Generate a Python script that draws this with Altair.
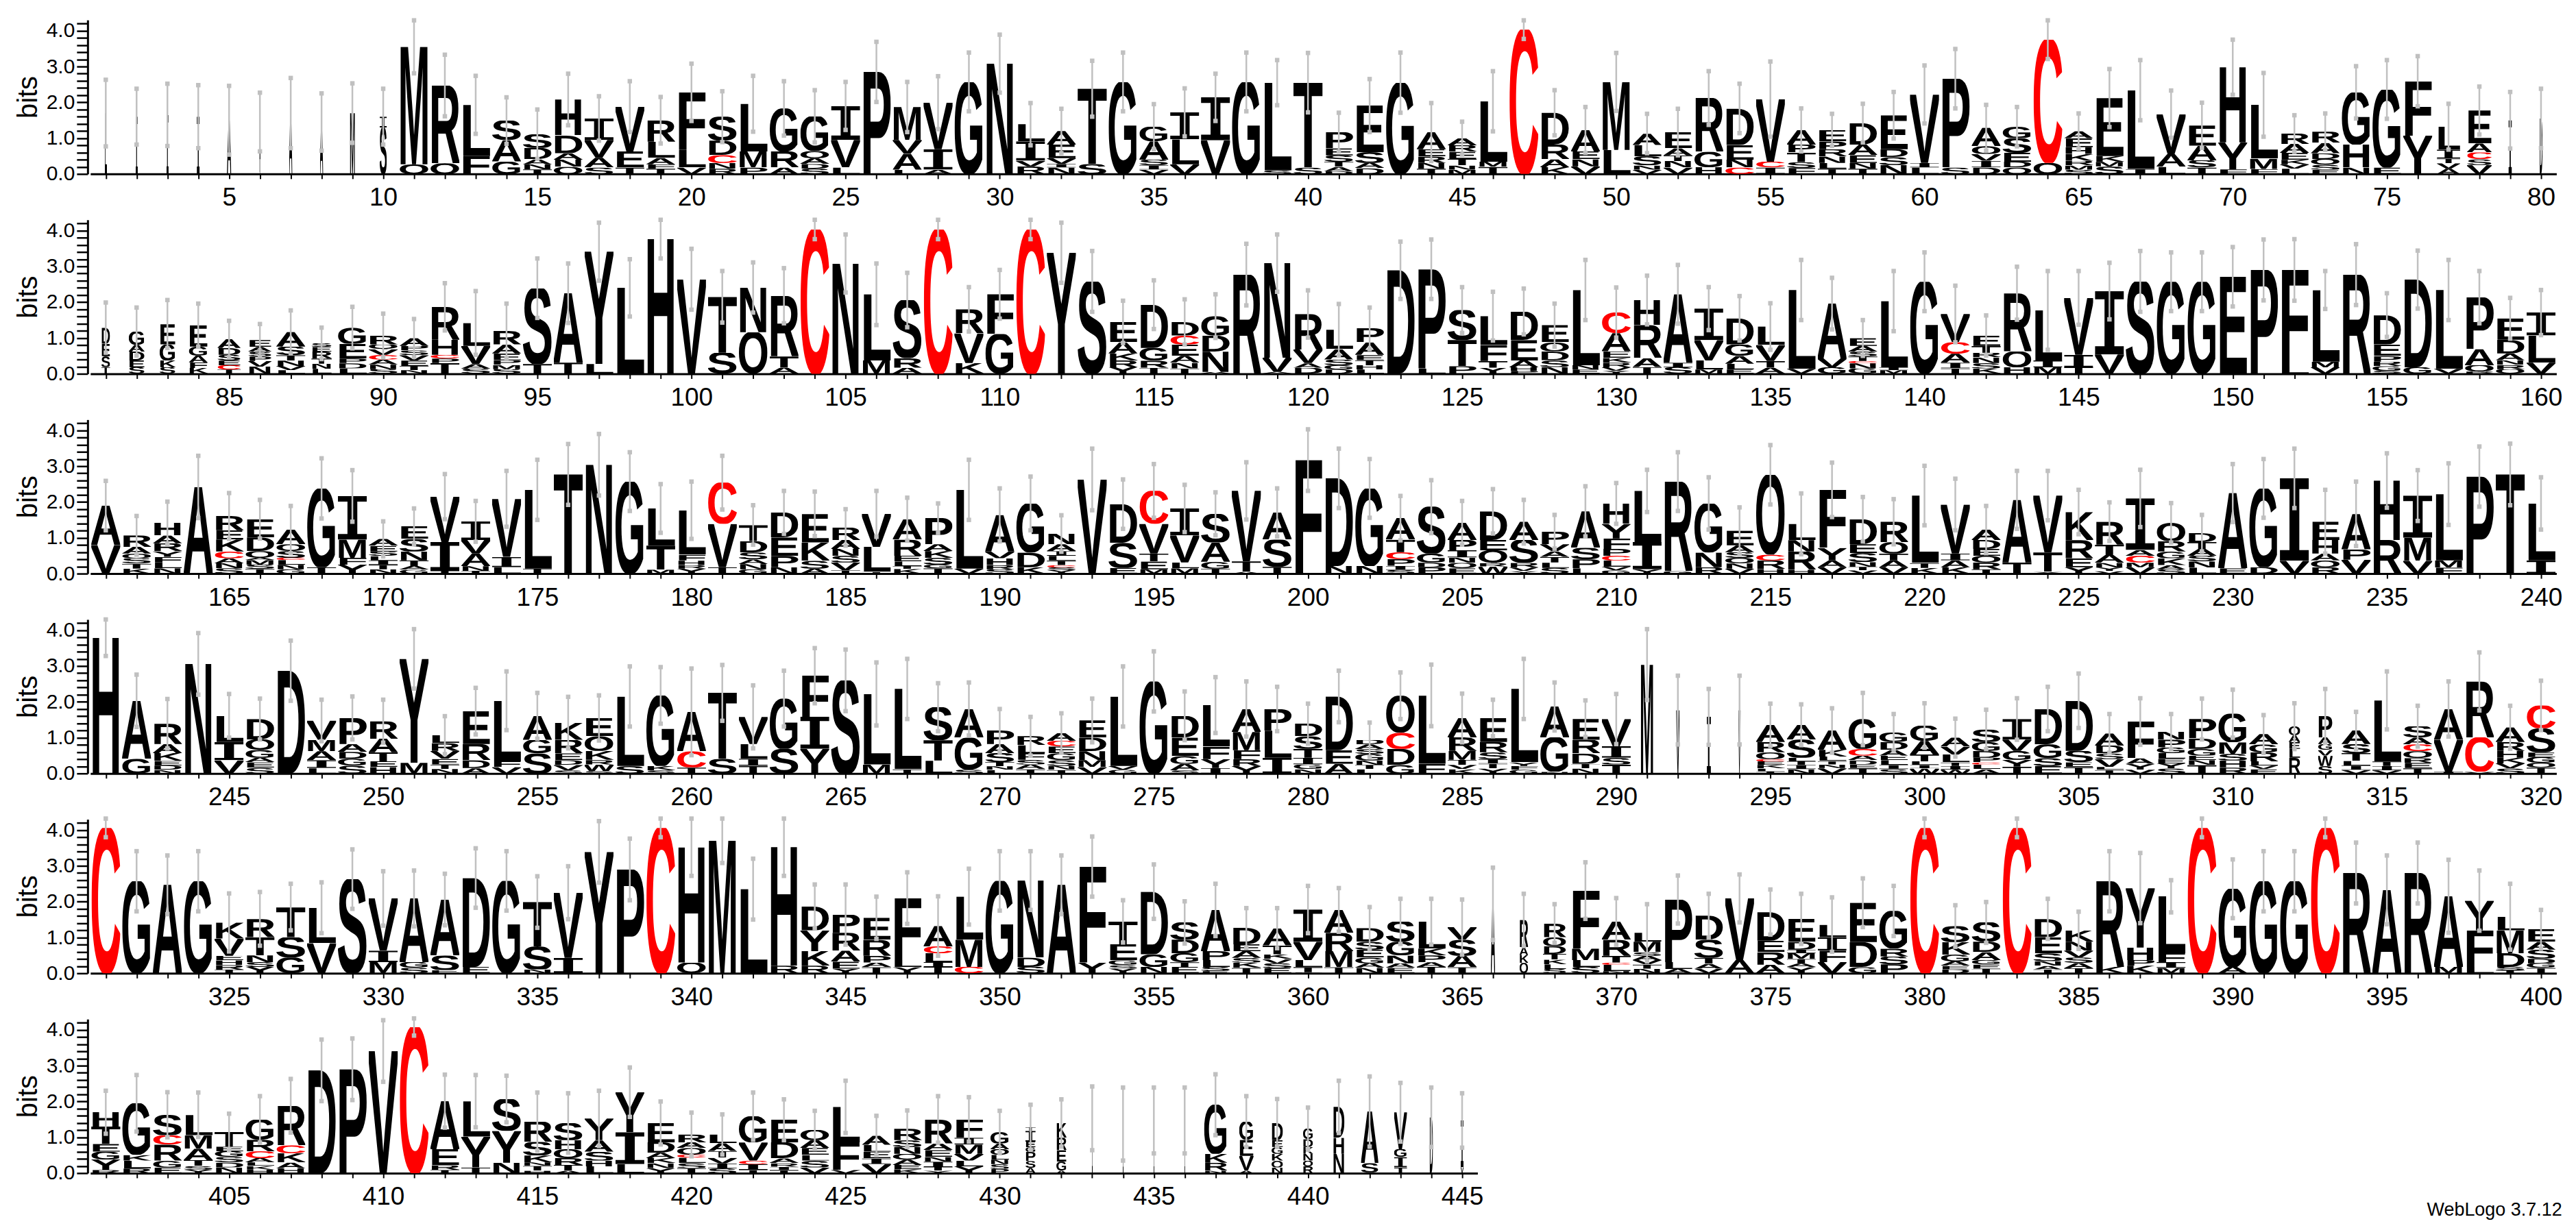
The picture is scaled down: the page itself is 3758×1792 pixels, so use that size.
import altair as alt
import pandas as pd
from urllib.parse import quote

# Sequence-logo columns, one string per position, letters listed top -> bottom
# with their heights in bits.
STACKS_1 = [
    "L1.7", "I1.6", "I1.65", "I1.6", "A1.5", "A1.4 T.05", "A1.7", "A1.45", "M1.7", "I.3 S1.3",
    "M3.28 Q.27", "R2.17 Q.3", "L1.43 F.5", "S.54 A.6 G.35", "S.38 D.32 A.14 N.14 T.13", "H1.0 D.5 A.18 N.2 Q.2", "I.6 V.5 A.27 S.18", "V1.25 E.45 T.18", "R.6 L.45 A.18 F.12 T.15", "F1.6 L.5 V.18",
    "S.67 D.4 C.22 N.16 R.15", "L1.33 M.45 P.18", "G1.2 R.45 A.18", "G.97 Q.2 A.16 D.13 S.15", "I.95 V.77 L.18", "P2.85", "M.92 V.38 A.45 L.12", "V1.3 I.57 A.12", "G2.57", "N3.08",
    "L.48 I.54 V.16 R.21", "A.38 E.38 V.16 I.1 N.18", "T2.1 S.28", "G2.57", "G.41 A.51 S.16 I.12 V.12", "I.75 L.7 V.27", "I1.2 V.94", "G2.57", "L2.45 S.1", "T2.37 S.18",
    "P.45 E.2 S.18 T.14 A.12 D.08", "E1.3 S.3 A.15 D.16", "G2.55", "A.48 E.2 R.18 N.16 T.15", "A.2 R.18 E.2 T.18 N.12 M.12", "L1.69 M.14 T.2", "C4.03", "D.89 R.41 A.22 K.19", "A.6 E.22 N.2 V.21", "M1.9 L.67",
    "A.32 L.32 S.25 N.12 V.12", "E.45 A.2 T.16 N.18 V.18", "R1.5 G.43 H.19", "D1.02 E.41 N.22 C.18", "V1.75 C.16 I.18", "A.41 P.22 T.27 S.16 F.17", "E.32 P.22 R.2 N.18 L.16 T.15", "D.6 A.29 E.22 N.16 T.15", "E.95 D.22 S.22 N.25", "V1.91 I.13 L.18",
    "P2.48 S.18", "A.51 Q.22 V.19 I.19 D.18", "G.32 S.41 E.25 D.16 Q.18", "C3.44 Q.31", "A.2 E.25 H.19 K.19 R.13 M.12 S.12", "E1.62 K.16 M.13 S.21", "L2.2 I.14", "V1.12 A.35 L.2", "E.57 A.41 S.2 T.18", "H2.1 Y.75 F.13",
    "L1.5 M.29 F.14", "R.29 A.25 E.19 K.13 V.12 L.15", "R.31 A.29 D.16 Q.16 S.14 E.12", "G1.46 H.64 N.18", "G2.18 E.18", "F1.52 Y1.07", "L.64 I.25 T.13 V.15 A.15", "E.92 A.25 C.19 S.16 V.25", "I1.5", "D1.55",
]
STACKS_2 = [
    "D.45 E.35 S.3 T.19", "G.37 A.19 D.25 E.19 S.18", "E.57 G.45 K.19 S.18", "E.6 G.25 A.19 F.16 K.16", "A.25 D.19 S.16 E.13 C.12 T.12", "E.19 A.13 S.13 P.13 V.16 N.2", "A.41 S.24 T.15 N.15 V.12 L.1", "S.1 E.13 R.19 T.15 N.14 L.14", "G.45 E.41 P.13 D.15 L.15", "R.25 Q.13 V.16 C.13 A.14 N.13 S.13",
    "A.22 P.13 S.13 V.15 E.15 T.12 N.1", "R.92 H.42 C.1 P.13 T.3", "L.64 V.51 A.13 S.14", "R.38 A.25 E.19 P.13 M.12 S.13", "S2.12 T.27", "A1.94 T.31", "Y3.14 L.27", "L2.4", "H3.76", "V2.64",
    "T1.56 S.59", "N1.25 Q1.16", "R1.69 T.32 A.17", "C4.03", "N3.08", "L1.85 M.37", "S1.62 R.27 A.17", "C4.03", "R.67 V.83 K.3", "F1.11 G1.11",
    "C4.03", "Y3.38", "S2.58", "E.57 A.31 K.2 R.19 Y.18", "D1.21 G.35 R.2 T.17", "D.38 C.25 E.32 A.19 N.16 T.15", "G.54 D.45 N.57 A.05", "R2.77", "N2.64 V.4 A.05", "R.99 V.38 A.13 D.17",
    "L.54 A.29 S.16 G.12 D.12", "P.39 A.35 E.15 T.14 H.12 L.12", "D2.89", "P2.77 L.15", "S.84 T.73 P.21", "L.8 F.45 T.19 Y.17", "D.8 E.57 A.19 H.1 P.08", "E.48 Q.25 D.25 S.19 N.19", "L2.1 N.12 E.12", "C.57 A.51 E.19 K.13 R.13 V.1 Y.08",
    "H.7 R.92 A.25 T.19", "A1.91 I.13 S.18", "I.88 V.57 L.25 M.12", "D.73 G.32 A.22 L.16 E.12", "L.51 V.45 T.19 A.17", "L2.2 V.14", "A1.53 V.25 G.18", "E.22 A.16 S.13 T.13 C.06 N.15 G.15", "L1.85 I.08 M.1", "G2.57",
    "V.79 C.32 A.25 I.16 T.15", "E.29 T.19 R.13 N.16 S.15 K.15", "R1.62 Q.45 H.18", "L1.4 I.19 M.18", "V1.59 I.35 T.18", "I1.77 V.54", "S2.58", "G2.57", "G2.57", "E2.71",
    "P2.9", "F2.7 L.2", "L2.0 M.16 V.18", "R2.77", "D.82 E.32 P.16 R.13 G.13 S.08", "D2.45 G.18", "L2.2 V.14", "P1.45 A.45 Q.18 R.06", "E.6 D.38 A.19 N.13 R.12 Q.13", "I.64 L.76 V.31",
]
STACKS_3 = [
    "A1.1 V.8", "R.32 A.19 Q.13 S.15 T.14 K.14", "H.35 A.22 R.22 Y.16 F.16 L.16 N.15", "A2.42", "R.4 E.25 K.34 C.19 A.14 N.14 S.15", "E.51 D.38 Q.19 A.06 M.13 S.12 T.13", "A.41 Q.19 S.19 C.06 L.13 N.13 G.12", "G2.2 T.18", "I1.22 M.51 F.19 Y.25", "A.19 E.16 S.13 L.12 I.12 T.13 N.12",
    "E.35 S.35 N.25 T.16 A.1 G.11", "V1.27 I.8 T.08", "I.52 V.38 A.35 N.13 T.08", "V1.62 I.29 L.18", "L2.2 T.14", "T2.77", "N3.04", "G2.57", "L1.04 T.67 M.11", "L1.24 F.16 H.13 R.1 Y.14",
    "C1.15 V1.21 T.18", "T.45 D.32 S.19 A.13 N.15 G.12", "D.7 E.51 P.32 N.18", "E.8 K.51 S.22 A.14", "R.35 A.25 N.19 S.19 V.22 T.09", "V.92 L.7 T.05", "A.57 R.45 E.16 L.13 T.08 K.13", "P.73 A.19 K.19 S.19 G.1 T.15", "L2.2 V.14", "A1.02 V.19 H.19 R.12 S.12",
    "G1.37 D.41 K.18", "N.3 A.19 I.13 L.13 T.13 C.06 S.08 Y.1", "V2.63", "D1.08 S.7 E.16", "C.92 V.83 T.22 E.22 M.12", "I.75 V.76 L.16 M.15", "S.8 A.54 G.19 T.14", "V1.97 T.29 A.05", "A.76 S.76 T.19", "F3.17",
    "D2.45 N.21", "G2.17 N.21", "A.6 T.35 C.19 P.19 I.12 S.1", "S1.31 G.25 D.13 P.18", "A.48 P.29 I.2 N.15 Q.15 E.15", "D.8 E.29 Q.35 R.1 W.2", "A.51 S.64 R.13 V.1 Y.07", "P.35 V.19 A.16 T.16 L.15 S.16", "A1.02 S.32 P.25 L.15", "H.57 Y.41 F.29 P.19 C.13 L.18 V.1 G.09",
    "L1.43 I.76 Y.12", "R2.5 G.07", "G1.37 N.41 R.18", "E.41 A.19 S.16 Q.15 N.15 V.14", "Q2.23 C.16 R.24 H.13", "L.45 N.32 R.51 H.11", "F1.62 Y.35 A.19 V.18", "D.7 E.25 S.25 N.13 T.1 V.09", "R.57 Q.32 T.19 A.19 V.18", "L1.88 T.14 K.16",
    "V1.37 I.19 A.19 K.18", "A.29 D.25 E.19 Q.19 R.19 T.12", "A1.75 T.31", "V1.59 T.54 Y.05", "K.78 R.51 E.25 Y.18", "R.64 T.29 A.22 N.13 Y.1 V.07", "I1.44 A.16 C.19 M.13 V.18", "Q.51 R.29 G.19 K.19 A.12 S.12", "D.25 T.19 A.19 S.16 N.17 L.17", "A2.1 E.15",
    "G2.2 D.18", "I2.3 V.36", "E.51 H.38 A.19 Q.19 R.18", "A.99 P.29 V.39", "H1.66 R.94", "I1.18 M.64 V.36", "L1.85 M.2 F.17", "P2.71", "T2.77", "L1.59 I.37",
]
STACKS_4 = [
    "H3.79", "A1.62 G.41", "R.57 A.25 K.22 E.13 D.12 N.1", "N3.06", "L.73 I.51 V.37", "D.57 Q.29 G.22 A.13 E.15 S.16", "D2.87", "V.54 M.32 A.25 I.22 L.15", "P.73 A.22 D.19 G.19 S.22", "R.49 A.38 T.25 E.16 H.18",
    "Y2.9 M.3", "L.22 R.22 V.22 E.16 T.12 N.13", "E.92 R.45 D.22 A.15", "L1.69 F.16 V.18", "A.67 G.38 S.56", "K.48 R.38 E.19 D.13 V.15 S.09", "E.51 Q.41 K.25 R.13 W.18 S.07", "L1.94 S.21", "G1.97 K.12 S.09", "A1.1 C.45 T.17",
    "T1.84 S.41", "V.76 L.41 I.19 T.22", "G1.4 S.69", "F1.15 I.89 Y.69", "S2.6", "L1.97 M.25", "L2.24 T.12", "S.92 T.57 L.36", "A.8 G.89 S.11", "P.38 A.25 S.25 T.12 N.1 L.1",
    "R.25 L.22 F.19 S.13 A.13 T.12", "A.22 C.16 E.19 G.19 S.16 N.11 T.1", "E.48 D.38 N.25 M.19 V.18", "L1.94 V.1 G.11", "G2.57", "D.61 E.51 G.22 A.18 S.09", "L1.16 F.35 Y.25 I.15", "A.64 M.51 F.25 R.19 Y.21", "P.6 L.76 I.44", "D.35 S.35 T.25 I.19 G.13 N.12",
    "D1.5 E.38 A.27", "D.13 A.13 S.13 G.19 N.12 T.12 L.12", "Q1.03 C.45 D.45 G.24", "L1.91 F.27", "A.54 R.38 M.25 T.14 V.12 K.12", "E.67 R.29 S.19 I.13 T.13 Y.14", "L2.05 Y.1 F.1 G.11", "A.86 G.96 N.05", "E.59 R.38 D.29 T.13 N.14", "V.76 I.32 S.19 T.25",
    "M3.04", "V1.77", "I1.58", "V1.77", "A.48 R.29 Q.19 C.06 E.1 K.1 L.08 T.06", "A.41 S.51 L.1 T.1 I.12 N.12", "A.54 K.19 L.12 T.1 N.1 V.15", "G.83 C.19 A.13 D.12 E.1 T.15", "G.27 D.22 A.16 E.13 L.13 I.12 S.12", "G.43 A.38 T.19 L.1 I.1 W.14",
    "A.25 V.22 L.22 T.1 I.1 W.11", "S.35 G.25 D.19 P.13 C.06 L.13 A.12", "I.57 V.32 G.25 Y.19 T.19", "D.99 G.38 S.22 E.21", "D1.4 S.32 E.13 T.18", "A.34 D.22 S.16 V.22 L.08 T.1", "F1.02 A.16 Y.16 V.11", "N.22 P.22 G.16 L.16 E.13 Y.14 S.14", "P.54 D.29 G.19 E.13 N.13 T.24", "G.8 M.32 S.19 H.19 R.17",
    "A.29 G.22 R.25 L.12 V.1 E.12", "Q.25 A.19 E.19 L.25 R.44", "P.6 A.19 G.16 V.16 W.29 S.21", "A.38 S.25 T.22 L.13 I.12 V.1", "L1.7 T.13 I.12 V.09", "S.32 A.19 C.19 Q.19 R.13 E.15 T.15", "A.86 V.89 I.05", "R1.56 C.96 V.05", "A.41 R.25 H.19 K.16 V.14 S.14", "C.64 S.67 E.13 G.16 Q.13 T.17",
]
STACKS_5 = [
    "C4.06", "G2.57", "A2.47", "G2.57", "K.45 V.48 E.13 H.13 R.13 T.1", "R.51 T.51 N.19 S.13 Y.18", "T.84 S.57 G.44", "L.99 V.84", "S2.63", "V1.46 I.32 M.31",
    "A1.78 G.16 S.15", "A1.56 S.41 E.09", "D2.48 E.18", "G2.58", "T1.24 S.64 N.11", "V1.82 I.43", "Y3.39", "P2.9", "C4.06", "H3.22 Q.3",
    "M3.7", "L2.35", "H3.31 R.21", "D.67 Y.58 K.41 R.21", "P.51 R.5 A.3 E.2 Y.13", "E.61 R.45 P.19 A.13 T.17", "F1.73 L.2 Y.17", "A.57 C.19 L.25 I.13 T.18", "L1.2 M.76 C.18", "G2.58",
    "N2.15 D.26 S.18", "A2.47", "F2.68 Y.3", "T.64 E.45 G.13 S.1 Y.13", "D1.75 G.35 N.18", "S.48 D.38 G.25 T.13 E.18", "A1.15 P.25 L.19 S.12 E.06", "D.46 E.19 A.19 S.13 K.15 T.15", "A.48 T.25 K.13 V.12 S.14 E.14", "I.9 V.51 L.19 T.15 E.03",
    "A.64 R.51 M.45 T.17", "D.38 S.22 E.22 G.16 A.13 N.15", "S.57 G.38 N.22 A.13 E.15", "L.75 K.19 P.19 A.13 T.18", "V.35 S.45 A.32 T.17", "A1.94", "R.76 A.22 K.22 Q.29", "R.38 Q.25 D.22 T.16 K.13 L.13 S.12", "F1.62 M.32 L.19 S.18", "A.51 R.45 T.19 C.06 L.18 N.06",
    "L.25 M.29 S.1 A.12 V.12 T.12 N.13", "P1.75 L.19 A.12", "D.67 S.51 T.16 A.14 V.13", "V1.72 A.37", "D.8 E.32 R.35 A.24", "E.64 D.22 I.1 M.16 T.13 A.1 Y.17", "L.35 I.38 F.32 V.31", "E1.1 D.7 G.17", "G1.05 R.22 S.22 P.25", "C4.06",
    "S.45 K.35 G.19 A.12 E.1 D.11", "S.54 D.29 A.22 G.12 E.12 T.13", "C4.06", "D.51 E.45 S.22 N.13 A.1 T.11", "K.32 N.25 V.19 S.15 A.15 T.14", "R2.39 K.18", "Y1.66 H.35 P.16 K.21", "L1.59 F.25 I.16 M.15", "C4.06", "G2.18 A.18",
    "G2.57", "G2.57", "C4.06", "R2.8", "A2.33", "R2.8", "A1.97 M.18", "Y.83 F1.02 L.18", "L.38 M.64 D.38 S.1 T.08", "E.35 A.22 S.25 D.13 G.13 T.15",
]
STACKS_6 = [
    "H.4 T.48 E.22 G.22 Y.29 R.09", "G1.44 K.16 L.22 R.13", "S.57 C.26 R.45 G.19 E.16", "L.57 M.38 A.32 T.16 S.1 Y.1", "T.41 E.13 G.16 S.15 D.14 N.16", "G.57 R.32 C.19 A.12 L.1 K.1 H.1", "R1.1 C.22 K.26 A.16 H.14", "D2.87", "P2.9", "V3.41",
    "C4.08", "A1.34 E.45 R.13 T.09", "L.99 Y.86 T.16", "S.89 Y.89 N.29", "R.57 S.38 K.19 N.1 T.13 H.07", "S.48 H.25 Q.25 R.19 T.16 A.07", "Y.61 A.32 S.25 H.16 L.19", "Y1.12 I.89 L.25", "E.54 D.29 A.15 K.14 N.14 Y.14", "R.22 A.16 Q.19 C.08 L.15 S.14 T.14",
    "L.24 A.22 T.19 V.16 I.14 S.13", "G.73 V.51 C.1 I.16 T.09", "E.63 D.45 A.13 R.1 I.1 T.08", "Q.29 A.22 E.19 L.16 S.19 V.16", "L.99 F.77 V.09", "A.26 L.19 E.19 I.16 V.25", "R.32 S.19 N.19 Q.16 A.15 E.12 K.11", "R.67 A.19 E.19 N.13 I.15 T.1 Y.07", "F.51 I.19 M.26 V.19 L.16 Y.19", "G.32 A.16 Q.16 L.13 N.13 S.13 P.12",
    "T.1 I.3 E.16 G.13 P.25 S.19 A.15", "K.41 R.35 E.32 G.25 A.07", "I1.53", "I1.37", "I1.47", "I1.47", "G1.37 K.25 R.22 N.07", "G.51 E.45 V.41 A.07", "D.48 E.19 G.19 K.19 Q.19 N.16", "G.29 D.22 K.19 N.19 Q.16 R.19",
    "D.86 H.45 N.54", "A1.44 S.26 I.02", "V1.03 G.22 I.29 T.16", "D1.56", "I1.3 V.17",
]

# Upper end of each column's error bar (bits); the bar is symmetric about the stack top.
ERR_TOP_1 = [2.63, 2.38, 2.52, 2.48, 2.46, 2.27, 2.68, 2.25, 2.53, 2.38,
             4.29, 3.33, 2.74, 2.14, 1.8, 2.8, 2.17, 2.59, 2.15, 3.08,
             2.31, 2.74, 2.59, 2.34, 2.57, 3.69, 2.57, 2.73, 3.39, 3.89,
             1.98, 1.82, 3.16, 3.39, 1.95, 2.39, 2.8, 3.39, 3.18, 3.38,
             1.71, 2.65, 3.39, 1.98, 1.46, 2.87, 4.29, 2.34, 1.87, 3.38,
             1.68, 1.82, 2.87, 2.52, 3.14, 1.83, 1.68, 1.96, 2.29, 3.03,
             3.49, 1.93, 1.87, 4.29, 1.69, 2.93, 3.18, 2.33, 1.99, 3.75,
             2.82, 1.64, 1.69, 3.01, 3.18, 3.29, 1.96, 2.44, 2.29, 2.38]
ERR_TOP_2 = [1.99, 1.85, 2.06, 1.96, 1.48, 1.39, 1.77, 1.29, 1.87, 1.68,
             1.53, 2.53, 2.31, 1.96, 3.22, 3.08, 4.22, 3.2, 4.3, 3.49,
             2.87, 3.11, 2.95, 4.3, 3.89, 3.08, 2.82, 4.3, 2.42, 2.9,
             4.3, 4.22, 3.43, 2.04, 2.61, 2.08, 2.22, 3.63, 3.89, 2.33,
             1.95, 1.85, 3.69, 3.75, 2.42, 2.29, 2.38, 1.96, 3.18, 2.41,
             2.74, 3.04, 2.42, 2.17, 1.97, 3.18, 2.68, 1.5, 2.87, 3.39,
             2.46, 1.63, 2.99, 2.87, 2.87, 3.1, 3.43, 3.39, 3.39, 3.54,
             3.75, 3.76, 2.87, 3.62, 2.25, 3.44, 3.18, 2.87, 2.12, 2.34]
ERR_TOP_3 = [2.59, 1.61, 2.01, 3.29, 2.25, 2.06, 1.89, 3.22, 2.89, 1.46,
             1.82, 2.78, 2.03, 2.87, 3.18, 3.62, 3.9, 3.39, 2.5, 2.57,
             3.29, 1.91, 2.31, 2.29, 1.8, 2.31, 2.12, 1.96, 3.18, 2.38,
             2.71, 1.63, 3.49, 2.63, 3.06, 2.48, 2.27, 3.11, 2.38, 4.03,
             3.49, 3.2, 2.17, 2.61, 2.03, 2.36, 2.06, 1.64, 2.44, 2.53,
             2.9, 3.39, 2.69, 1.85, 3.59, 2.24, 3.1, 2.14, 2.08, 3.01,
             2.65, 1.89, 2.87, 2.87, 2.34, 1.99, 2.9, 1.97, 1.64, 3.06,
             3.2, 3.49, 2.34, 2.57, 3.36, 2.89, 3.08, 3.55, 3.63, 2.69]
ERR_TOP_4 = [4.3, 2.76, 2.08, 3.92, 2.22, 2.09, 3.71, 2.06, 2.15, 2.06,
             4.03, 1.6, 2.39, 2.85, 2.25, 2.14, 2.18, 2.99, 2.97, 2.93,
             3.03, 2.46, 2.87, 3.5, 3.46, 3.1, 3.2, 2.52, 2.54, 1.8,
             1.58, 1.68, 2.09, 2.99, 3.41, 2.29, 2.69, 2.57, 2.42, 1.95,
             2.87, 1.42, 2.82, 3.04, 2.23, 2.06, 3.2, 2.54, 2.04, 2.22,
             4.03, 2.73, 2.36, 2.73, 1.95, 1.93, 1.82, 2.25, 1.66, 1.96,
             1.53, 1.78, 2.1, 2.42, 2.79, 1.66, 2.1, 1.66, 2.09, 2.34,
             1.63, 1.96, 2.36, 1.72, 2.85, 1.89, 2.57, 3.38, 1.89, 2.59]
ERR_TOP_5 = [4.32, 3.41, 3.29, 3.41, 2.23, 2.27, 2.5, 2.54, 3.46, 2.85,
             2.87, 2.78, 3.49, 3.41, 2.71, 2.99, 4.25, 3.76, 4.32, 4.32,
             4.32, 3.2, 4.32, 2.48, 2.48, 2.14, 2.82, 2.15, 2.92, 3.41,
             3.41, 3.29, 3.82, 2.04, 3.04, 2.01, 2.5, 1.82, 1.82, 2.44,
             2.38, 1.85, 2.08, 2.08, 2.06, 2.95, 2.22, 1.93, 3.1, 2.1,
             1.93, 2.73, 2.22, 2.76, 2.34, 2.22, 2.12, 2.65, 2.44, 4.32,
             1.9, 1.99, 4.32, 2.08, 1.72, 3.41, 3.36, 2.6, 4.32, 3.18,
             3.41, 3.41, 4.32, 3.65, 3.29, 3.65, 3.17, 2.87, 2.5, 1.77]
ERR_TOP_6 = [2.3, 2.74, 2.26, 2.25, 1.66, 2.15, 2.63, 3.73, 3.76, 4.27,
             4.32, 2.75, 2.74, 2.72, 2.25, 2.23, 2.3, 2.95, 2.0, 1.69,
             1.64, 2.25, 2.06, 1.74, 2.58, 1.6, 1.75, 2.15, 2.12, 1.74,
             1.91, 2.06, 2.42, 2.39, 2.39, 2.39, 2.76, 2.15, 2.07, 1.83,
             2.58, 2.7, 2.52, 2.39, 2.23]

# Columns drawn narrower than a full stack (fraction of the full column width).
NARROW_COLUMNS = {
    1: .08, 2: .08, 3: .08, 4: .1, 5: .15, 6: .04, 7: .12, 8: .12, 9: .18, 10: .25,
    77: .8, 78: .85, 79: .12, 80: .1, 81: .3, 82: .55, 83: .55, 84: .65, 85: .8, 86: .8, 88: .7,
    291: .45, 292: .12, 293: .15, 294: .08, 312: .4, 313: .5,
    366: .15, 367: .3, 368: .8,
    430: .65, 431: .35, 432: .35, 433: .03, 434: .03, 435: .03, 436: .03, 437: .8, 438: .5,
    439: .4, 440: .35, 441: .4, 442: .6, 443: .45, 444: .12, 445: .1,
}

ROW_SPANS = [(1, 80), (81, 160), (161, 240), (241, 320), (321, 400), (401, 445)]
ROW_STACKS = [STACKS_1, STACKS_2, STACKS_3, STACKS_4, STACKS_5, STACKS_6]
ROW_ERRS = [ERR_TOP_1, ERR_TOP_2, ERR_TOP_3, ERR_TOP_4, ERR_TOP_5, ERR_TOP_6]
Y_TICKS = [round(i * 0.2, 1) for i in range(22)]

LETTER_COLORS = {"C": "#ff0000"}
DEFAULT_COLOR = "#000000"
ERR_GREY = "#c0c0c0"
SANS = "Liberation Sans, Arial, Helvetica, sans-serif"
COL_PX = 45.03
PLOT_H = 225
HALF_W = 0.47


def glyph_url(ch, color):
    """Stretchable SVG glyph: the capital letter fills its whole box."""
    if ch == "I":
        body = f"<path d='M0 0H100V13H67V87H100V100H0V87H33V13H0Z' fill='{color}'/>"
        vb = "0 0 100 100"
    else:
        # the filter renders the glyph off-screen, so it gets plain greyscale antialiasing
        body = ("<defs><filter id='g' x='-20%' y='-20%' width='140%' height='140%'>"
                "<feColorMatrix type='identity'/></filter></defs>"
                f"<text x='-5' y='0' textLength='110' lengthAdjust='spacingAndGlyphs' "
                f"font-family='Liberation Sans,Arial,Helvetica,sans-serif' font-weight='bold' "
                f"font-size='100' fill='{color}' filter='url(#g)'>{ch}</text>")
        vb = "0 -68.8 100 68.8"
    svg = (f"<svg xmlns='http://www.w3.org/2000/svg' viewBox='{vb}' "
           f"preserveAspectRatio='none' text-rendering='geometricPrecision'>{body}</svg>")
    return "data:image/svg+xml;charset=utf-8," + quote(svg)


letter_rows, err_rows = [], []
for r, ((start, end), stacks, errs) in enumerate(zip(ROW_SPANS, ROW_STACKS, ROW_ERRS)):
    for i, col in enumerate(stacks):
        pos = start + i
        items = [(tok[0], float(tok[1:])) for tok in col.split()]
        w = NARROW_COLUMNS.get(pos, 1.0) * HALF_W
        base = 0.0
        for ch, h in reversed(items):
            letter_rows.append({"row": r, "pos": pos, "letter": ch,
                                "key": ch + ("r" if ch in LETTER_COLORS else "k"),
                                "x0": pos - w, "x1": pos + w, "y0": base, "y1": base + h})
            base += h
        top = errs[i]
        err_rows.append({"row": r, "pos": pos, "hi": top, "lo": max(0.0, 2 * base - top)})

letters = pd.DataFrame(letter_rows)
errbars = pd.DataFrame(err_rows)
glyphs = pd.DataFrame([
    {"key": ch + ("r" if ch in LETTER_COLORS else "k"),
     "url": glyph_url(ch, LETTER_COLORS.get(ch, DEFAULT_COLOR))}
    for ch in sorted(set(letters["letter"]))
])


def row_chart(r):
    start, end = ROW_SPANS[r]
    n = end - start + 1
    xs = alt.Scale(domain=[start - 0.5, end + 0.5], nice=False, zero=False)
    ys = alt.Scale(domain=[0, 4.3], nice=False, zero=True)
    xaxis = alt.Axis(values=list(range(start, end + 1)),
                     labelExpr="datum.value % 5 == 0 ? datum.value : ''",
                     title=None, grid=False, tickSize=7, tickWidth=2, tickColor="black",
                     domainWidth=3, domainColor="black", labelFont=SANS,
                     labelFontSize=37, labelPadding=10, labelColor="black", labelAngle=0,
                     labelOverlap=False, labelFlush=False)
    yaxis = alt.Axis(values=Y_TICKS,
                     labelExpr="abs(datum.value - round(datum.value)) < 0.01 ? format(datum.value, '.1f') : ''",
                     title="bits", titleFont=SANS, titleFontSize=40,
                     titleFontWeight="normal", titleColor="black", titlePadding=6,
                     grid=False, offset=4, tickSize=16, tickWidth=2.5, tickColor="black",
                     domainWidth=3, domainColor="black", labelFont=SANS,
                     labelFontSize=30, labelPadding=3, labelColor="black",
                     labelOverlap=False, labelFlush=False)

    glyph_layer = alt.Chart(letters[letters.row == r]).transform_lookup(
        lookup="key", from_=alt.LookupData(glyphs, "key", ["url"])
    ).mark_image(aspect=False).encode(
        x=alt.X("x0:Q", scale=xs, axis=xaxis),
        x2="x1:Q",
        y=alt.Y("y1:Q", scale=ys, axis=yaxis),
        y2="y0:Q",
        url="url:N",
    )
    bars = alt.Chart(errbars[errbars.row == r]).mark_rule(
        color=ERR_GREY, strokeWidth=2.5
    ).encode(
        x=alt.X("pos:Q", scale=xs, axis=xaxis),
        y=alt.Y("lo:Q", scale=ys, axis=yaxis),
        y2="hi:Q",
    )
    caps = alt.Chart(errbars[errbars.row == r]).transform_fold(
        ["lo", "hi"], as_=["end", "v"]
    ).mark_square(color=ERR_GREY, size=42, opacity=1).encode(
        x=alt.X("pos:Q", scale=xs, axis=xaxis),
        y=alt.Y("v:Q", scale=ys, axis=yaxis),
    )
    return alt.layer(glyph_layer, bars, caps).properties(width=n * COL_PX, height=PLOT_H)


chart = alt.vconcat(
    *[row_chart(r) for r in range(len(ROW_SPANS))],
    spacing=67, bounds="flush",
).properties(
    padding={"left": 21, "top": 18, "right": 20, "bottom": 0},
    title=alt.TitleParams("WebLogo 3.7.12", orient="bottom", anchor="end",
                          font=SANS, fontSize=27, fontWeight="normal",
                          color="black", offset=-12),
).configure(
    background="white",
    view=alt.ViewConfig(stroke=None),
)

chart.save("out.html", embed_options={"renderer": "svg", "actions": False})
